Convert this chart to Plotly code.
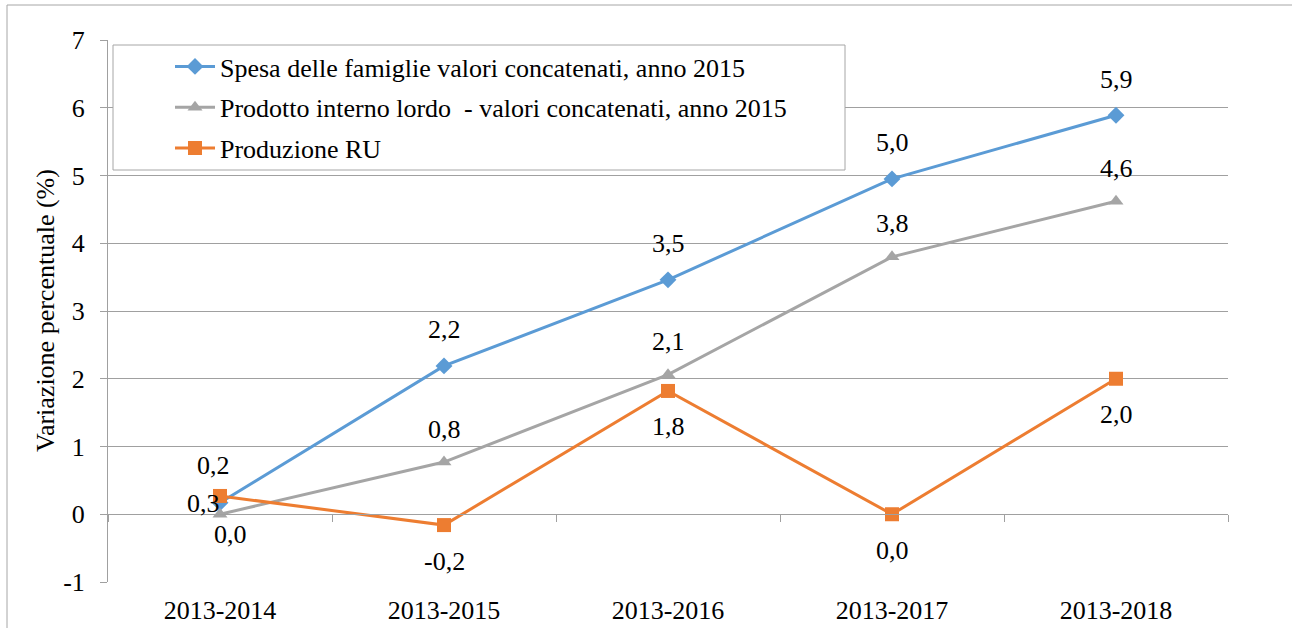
import plotly.graph_objects as go

categories = ["2013-2014", "2013-2015", "2013-2016", "2013-2017", "2013-2018"]
spesa = [0.17, 2.19, 3.46, 4.95, 5.89]
pil = [0.0, 0.77, 2.06, 3.80, 4.62]
produzione = [0.27, -0.16, 1.82, 0.0, 2.0]
y_ticks = [-1, 0, 1, 2, 3, 4, 5, 6, 7]

names = [
    "Spesa delle famiglie valori concatenati, anno 2015",
    "Prodotto interno lordo  - valori concatenati, anno 2015",
    "Produzione RU",
]
y_title = "Variazione percentuale (%)"
colors = ["#5B9BD5", "#A5A5A5", "#ED7D31"]
symbols = ["diamond", "triangle-up", "square"]
series = [spesa, pil, produzione]

FONT = "Liberation Serif, Times New Roman, serif"
FS = 26
GRID = "#a0a0a0"

fig = go.Figure()
for i, (nm, vals) in enumerate(zip(names, series)):
    fig.add_trace(go.Scatter(
        x=categories, y=vals, name=nm, mode="lines+markers",
        line=dict(color=colors[i], width=3),
        marker=dict(symbol=symbols[i], size=13 if i < 2 else 14, color=colors[i]),
        legendgroup=f"g{i}",
        hoverinfo="skip",
    ))

# dummy trace to activate the boundary-tick axis at y=0
fig.add_trace(go.Scatter(x=[], y=[], xaxis="x2", showlegend=False, hoverinfo="skip"))


def fmt(v):
    return f"{v:.1f}".replace(".", ",")

place = {
    0: (36, 0, "center"),
    1: (33, 0, "center"),
    2: (-36, 0, "center"),
}
first_override = {
    0: (37, -7, "center"),
    1: (-20, 10, "center"),
    2: (-8, 2, "right"),
}

L, R, T, B = 108, 64, 40, 46
W, H = 1292, 628
pw, ph = W - L - R, H - T - B


def px(X):
    return (X - L) / pw


def py(Y):
    return (H - B - Y) / ph


annotations = []
for s, vals in enumerate(series):
    for j, v in enumerate(vals):
        ys, xs, xa = first_override[s] if j == 0 else place[s]
        annotations.append(dict(
            x=categories[j], y=v, xref="x", yref="y", text=fmt(v),
            showarrow=False, yshift=ys, xshift=xs, xanchor=xa,
            font=dict(family=FONT, size=FS, color="black"),
        ))
# y axis title
annotations.append(dict(
    x=px(45), y=0.5, xref="paper", yref="paper", text=y_title, textangle=-90,
    showarrow=False, xanchor="center", yanchor="middle",
    font=dict(family=FONT, size=FS, color="black"),
))

shapes = [
    # legend box
    dict(type="rect", xref="paper", yref="paper",
         x0=px(113), x1=px(845), y0=py(170), y1=py(45),
         line=dict(color="#a6a6a6", width=1), fillcolor="white", layer="above"),
    # outer frame (top and left)
    dict(type="line", xref="paper", yref="paper", x0=px(7), x1=1.2, y0=py(5), y1=py(5),
         line=dict(color="#a6a6a6", width=1)),
    dict(type="line", xref="paper", yref="paper", x0=px(7), x1=px(7), y0=-0.2, y1=py(5),
         line=dict(color="#a6a6a6", width=1)),
]

n = len(categories)
fig.update_layout(
    width=W, height=H,
    margin=dict(l=L, r=R, t=T, b=B, autoexpand=False),
    paper_bgcolor="white", plot_bgcolor="white",
    font=dict(family=FONT, size=FS, color="black"),
    showlegend=True,
    legend=dict(x=px(170), y=py(43), xanchor="left", yanchor="top",
                bgcolor="rgba(0,0,0,0)", borderwidth=0,
                font=dict(family=FONT, size=FS, color="black"),
                tracegroupgap=4, itemwidth=40),
    xaxis=dict(type="category", range=[-0.5, n - 0.5], showgrid=False,
               showline=False, ticks="", zeroline=False, automargin=False,
               tickfont=dict(family=FONT, size=FS), ticklabelstandoff=10),
    xaxis2=dict(overlaying="x", anchor="free", position=0.125, side="bottom",
                range=[-0.5, n - 0.5], tickvals=[i - 0.5 for i in range(n + 1)],
                showticklabels=False, ticks="outside", ticklen=7, tickcolor=GRID,
                showline=True, linecolor=GRID, linewidth=1, showgrid=False,
                zeroline=False, automargin=False),
    yaxis=dict(range=[-1, 7], tickvals=y_ticks, ticktext=[str(t) for t in y_ticks],
               showgrid=True, gridcolor=GRID,
               gridwidth=1, zeroline=False, showline=True, linecolor=GRID,
               ticks="outside", ticklen=7, tickcolor=GRID, automargin=False,
               tickfont=dict(family=FONT, size=FS), ticklabelstandoff=10),
    annotations=annotations,
    shapes=shapes,
)

fig.write_html("out.html", config={"displayModeBar": False},
               post_script="document.body.style.margin='0px';document.body.style.overflow='hidden';")
